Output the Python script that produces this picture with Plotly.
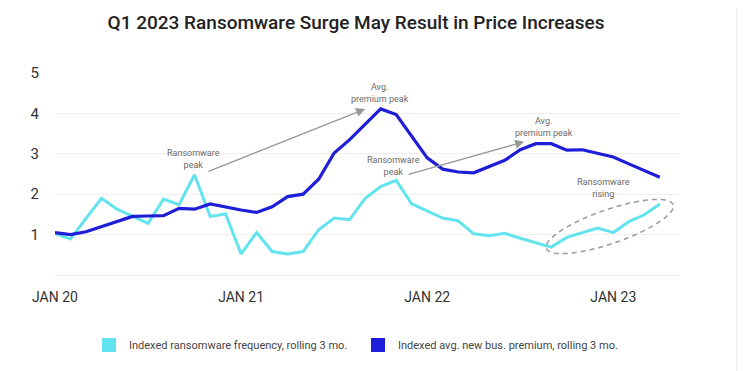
import math
import plotly.graph_objects as go

# ---- data -------------------------------------------------------------
months = [f"{y}-{m:02d}" for y in (2020, 2021, 2022, 2023) for m in range(1, 13)][:40]
month_idx = list(range(len(months)))

ransomware_freq = [1.03, 0.89, 1.40, 1.90, 1.63, 1.45, 1.28, 1.88, 1.74, 2.48,
                   1.45, 1.51, 0.52, 1.05, 0.58, 0.52, 0.58, 1.12, 1.41, 1.37,
                   1.90, 2.19, 2.34, 1.76, 1.59, 1.41, 1.34, 1.02, 0.97, 1.03,
                   0.91, 0.80, 0.69, 0.93, 1.05, 1.16, 1.05, 1.32, 1.49, 1.76]

avg_premium = [1.05, 1.00, 1.07, 1.20, 1.32, 1.45, 1.46, 1.47, 1.65, 1.63,
               1.76, 1.68, 1.61, 1.55, 1.69, 1.94, 2.00, 2.37, 3.02, 3.35,
               3.72, 4.11, 3.97, 3.43, 2.90, 2.62, 2.55, 2.53, 2.69, 2.84,
               3.10, 3.25, 3.25, 3.09, 3.10, 3.00, 2.92, 2.75, 2.59, 2.42]

tick_vals = [0, 12, 24, 36]
tick_text = ["JAN 20", "JAN 21", "JAN 22", "JAN 23"]
y_ticks = [1, 2, 3, 4, 5]

series_names = ["Indexed ransomware frequency, rolling 3 mo.",
                "Indexed avg. new bus. premium, rolling 3 mo."]

title_text = "Q1 2023 Ransomware Surge May Result in Price Increases"

# ---- styles -----------------------------------------------------------
CYAN = "#62e4ef"
BLUE = "#1e1ed8"
FONT = "Roboto"

OFF = 8  # page body margin
W, H = 755 - OFF, 371 - OFF
M_L, M_R, M_T, M_B = 55 - OFF, 75, 73 - OFF, 96
X_RANGE = [0, 40.3]
Y_RANGE = [0, 5]
px_per_x = (W - M_L - M_R) / (X_RANGE[1] - X_RANGE[0])
px_per_y = (H - M_T - M_B) / (Y_RANGE[1] - Y_RANGE[0])

fig = go.Figure()

fig.add_trace(go.Scatter(x=month_idx, y=ransomware_freq, mode="lines",
                         line=dict(color=CYAN, width=3), showlegend=False,
                         name=series_names[0], hovertext=months))
fig.add_trace(go.Scatter(x=month_idx, y=avg_premium, mode="lines",
                         line=dict(color=BLUE, width=3.2), showlegend=False,
                         name=series_names[1], hovertext=months))

# legend entries with square swatches
for nm, col in zip(series_names, [CYAN, BLUE]):
    fig.add_trace(go.Scatter(x=[None], y=[None], mode="markers", name=nm,
                             marker=dict(symbol="square", size=14, color=col)))

# dashed ellipse ("Ransomware rising"), rotated in pixel space
cx, cy = 35.77, 1.20
a_px, b_px, theta = 67, 17, math.radians(19)
ex, ey = [], []
for i in range(121):
    t = 2 * math.pi * i / 120
    dx = a_px * math.cos(t) * math.cos(theta) - b_px * math.sin(t) * math.sin(theta)
    dy = a_px * math.cos(t) * math.sin(theta) + b_px * math.sin(t) * math.cos(theta)
    ex.append(cx + dx / px_per_x)
    ey.append(cy + dy / px_per_y)
path = "M " + " L ".join(f"{x:.4f},{y:.4f}" for x, y in zip(ex, ey)) + " Z"
fig.add_shape(type="path", path=path, xref="x", yref="y",
              line=dict(color="#9a9a9a", width=1.5, dash="5px,4px"))

# screenshot border line at right
bx = (737 - OFF - M_L) / (W - M_L - M_R)
fig.add_shape(type="line", xref="paper", yref="paper", x0=bx, x1=bx,
              y0=-M_B / (H - M_T - M_B) - 0.1, y1=1 + M_T / (H - M_T - M_B) + 0.1,
              line=dict(color="#e8e8e8", width=1))

ann_font = dict(family=FONT, size=9, color="#6a6a6a")
texts = [
    ("Ransomware<br>peak", 8.92, 2.87),
    ("Avg.<br>premium peak", 20.97, 4.50),
    ("Ransomware<br>peak", 21.8, 2.70),
    ("Avg.<br>premium peak", 31.5, 3.67),
    ("Ransomware<br>rising", 35.35, 2.16),
]
for txt, x, y in texts:
    fig.add_annotation(x=x, y=y, text=txt, showarrow=False, font=ann_font,
                       xanchor="center", yanchor="middle")

arrows = [((9.8, 2.55), (20.0, 4.11)), ((22.7, 2.48), (30.26, 3.30))]
for (tx, ty), (hx, hy) in arrows:
    fig.add_annotation(x=hx, y=hy, ax=tx, ay=ty, axref="x", ayref="y",
                       xref="x", yref="y", text="", showarrow=True,
                       arrowhead=2, arrowsize=1.3, arrowwidth=1.4,
                       arrowcolor="#999999", standoff=0)

fig.update_layout(
    width=W, height=H,
    margin=dict(l=M_L, r=M_R, t=M_T, b=M_B),
    paper_bgcolor="white", plot_bgcolor="white",
    font=dict(family=FONT, color="#333333"),
    title=dict(text=title_text, x=(356 - OFF) / W, xanchor="center", xref="container",
               y=1 - (22 - OFF) / H, yanchor="middle", yref="container",
               font=dict(family=FONT, size=19, color="#222222", weight=500)),
    legend=dict(orientation="h", xref="container", yref="container",
                x=81 / W, xanchor="left", y=1 - (345 - OFF) / H, yanchor="middle",
                font=dict(family=FONT, size=11, color="#444444"),
                entrywidth=224, entrywidthmode="pixels",
                itemwidth=30, bgcolor="rgba(0,0,0,0)"),
    xaxis=dict(range=X_RANGE, tickvals=tick_vals, ticktext=tick_text,
               showgrid=False, zeroline=False, showline=False, ticks="",
               tickfont=dict(family=FONT, size=14, color="#333333"),
               ticklabelstandoff=12, fixedrange=True),
    yaxis=dict(range=Y_RANGE, tickvals=y_ticks, showgrid=True,
               gridcolor="#efefef", gridwidth=1, zeroline=True,
               zerolinecolor="#efefef", zerolinewidth=1, showline=False,
               ticks="", tickfont=dict(family=FONT, size=15, color="#333333"),
               ticklabelstandoff=15, fixedrange=True),
)

fig.write_html("out.html")
